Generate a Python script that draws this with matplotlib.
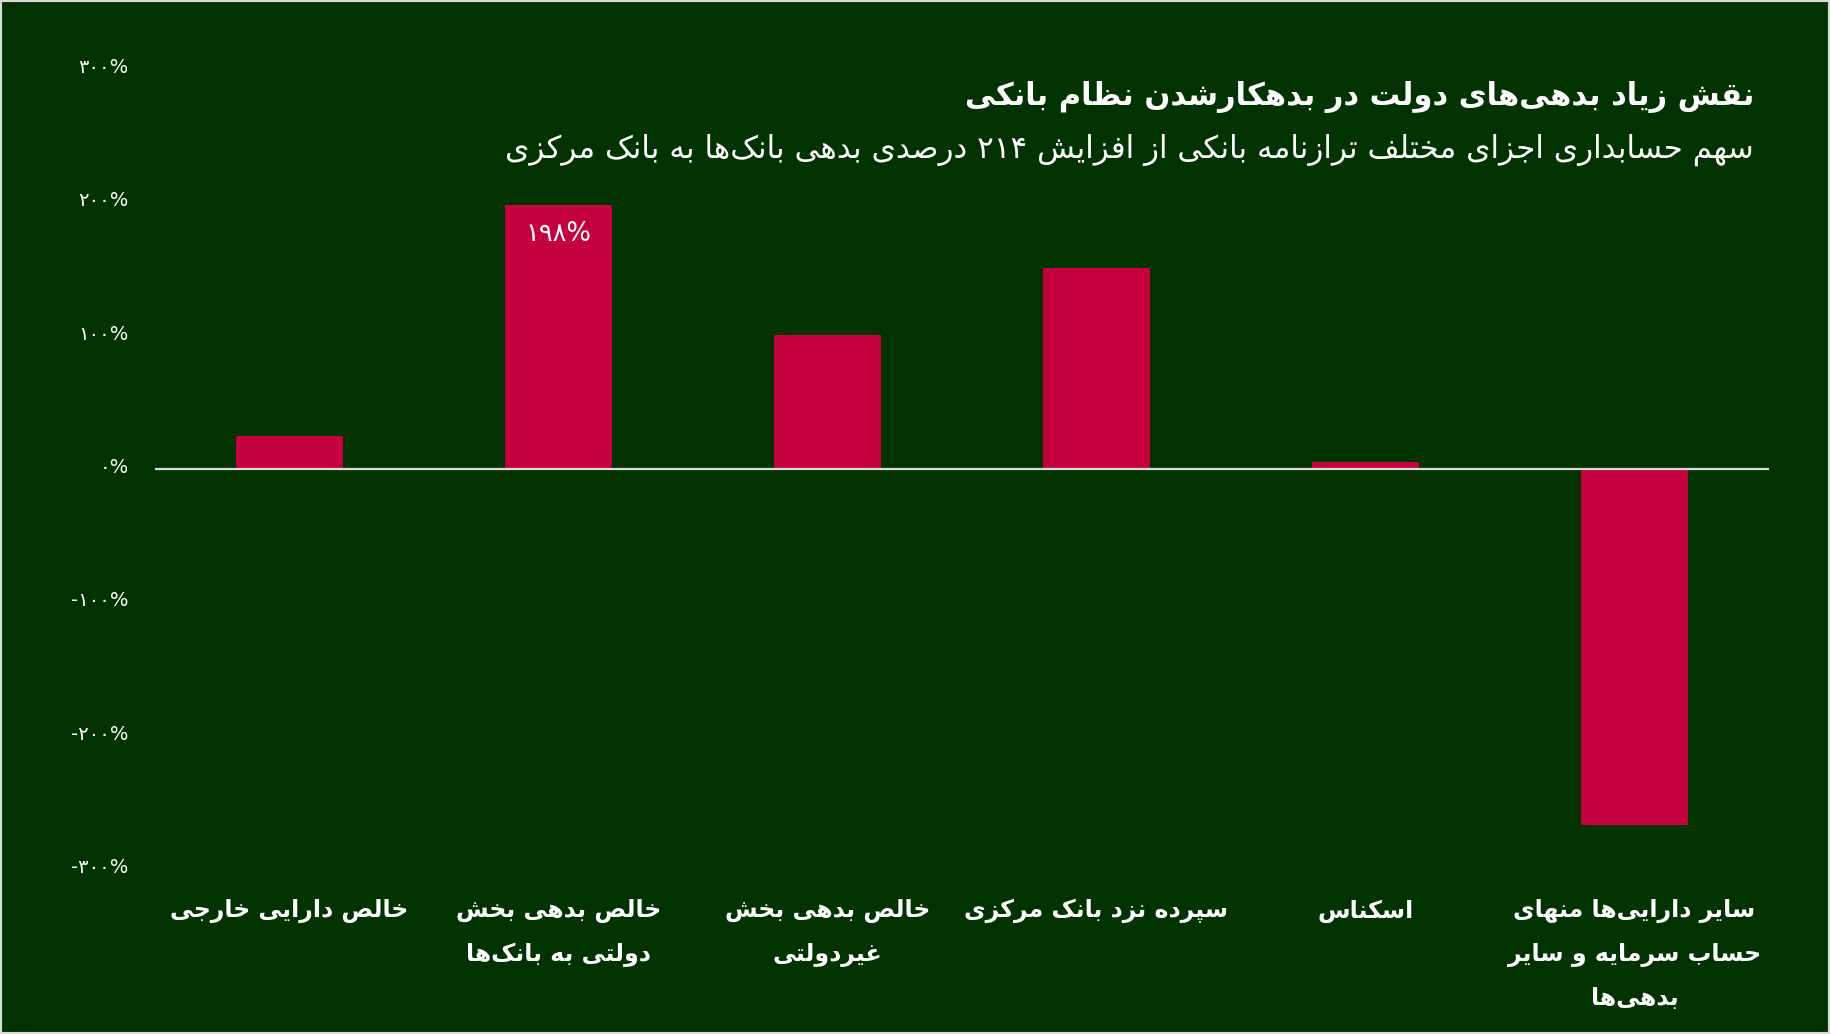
import re
import matplotlib
matplotlib.use("Agg")
import matplotlib.pyplot as plt
from matplotlib.patches import Rectangle
from matplotlib.transforms import ScaledTranslation

# --- data ---
title = "نقش زیاد بدهی‌های دولت در بدهکارشدن نظام بانکی"
subtitle = "سهم حسابداری اجزای مختلف ترازنامه بانکی از افزایش ۲۱۴ درصدی بدهی بانک‌ها به بانک مرکزی"
categories = [
    "خالص دارایی خارجی",
    "خالص بدهی بخش\nدولتی به بانک‌ها",
    "خالص بدهی بخش\nغیردولتی",
    "سپرده نزد بانک مرکزی",
    "اسکناس",
    "سایر دارایی‌ها منهای\nحساب سرمایه و سایر\nبدهی‌ها",
]
values = [24.5, 198, 100, 150.5, 5, -267]
yticks = [-300, -200, -100, 0, 100, 200, 300]
ytick_labels = ["-۳۰۰%", "-۲۰۰%", "-۱۰۰%", "۰%", "۱۰۰%", "۲۰۰%", "۳۰۰%"]
bar_label = "۱۹۸%"

BG = "#003300"
BAR = "#c4003f"

# matplotlib has no arabic shaping, so do it by hand with presentation forms
# dual joining letters: isolated, final, initial, medial are base..base+3
DUAL = {
    0x0626: 0xFE89, 0x0628: 0xFE8F, 0x067E: 0xFB56, 0x062A: 0xFE95, 0x062B: 0xFE99,
    0x062C: 0xFE9D, 0x0686: 0xFB7A, 0x062D: 0xFEA1, 0x062E: 0xFEA5, 0x0633: 0xFEB1,
    0x0634: 0xFEB5, 0x0635: 0xFEB9, 0x0636: 0xFEBD, 0x0637: 0xFEC1, 0x0638: 0xFEC5,
    0x0639: 0xFEC9, 0x063A: 0xFECD, 0x0641: 0xFED1, 0x0642: 0xFED5, 0x06A9: 0xFB8E,
    0x06AF: 0xFB92, 0x0644: 0xFEDD, 0x0645: 0xFEE1, 0x0646: 0xFEE5, 0x0647: 0xFEE9,
    0x06CC: 0xFBFC,
}
# right joining letters: isolated, final
RIGHT = {
    0x0622: 0xFE81, 0x0627: 0xFE8D, 0x062F: 0xFEA9, 0x0630: 0xFEAB, 0x0631: 0xFEAD,
    0x0632: 0xFEAF, 0x0698: 0xFB8A, 0x0648: 0xFEED,
}
DIGITS = "0123456789۰۱۲۳۴۵۶۷۸۹%"


def shape(s):
    out = []
    for i, ch in enumerate(s):
        c = ord(ch)
        if c in DUAL or c in RIGHT:
            prev = ord(s[i - 1]) if i > 0 else None
            nxt = ord(s[i + 1]) if i < len(s) - 1 else None
            jp = prev in DUAL
            jn = c in DUAL and (nxt in DUAL or nxt in RIGHT)
            base = DUAL.get(c, RIGHT.get(c))
            if jp and jn:
                out.append(chr(base + 3))
            elif jp:
                out.append(chr(base + 1))
            elif jn:
                out.append(chr(base + 2))
            else:
                out.append(chr(base))
        elif ch == "\u200c":
            continue
        else:
            out.append(ch)
    return "".join(out)


def rtl(s):
    lines = []
    for line in s.split("\n"):
        runs = re.findall(r"[%s]+|[^%s]+" % (DIGITS, DIGITS), shape(line))
        lines.append("".join(r if r[0] in DIGITS else r[::-1] for r in reversed(runs)))
    return "\n".join(lines)


plt.rcParams["font.family"] = ["DejaVu Sans"]

fig = plt.figure(figsize=(18.3, 10.34), dpi=100)
fig.patch.set_facecolor(BG)
ax = fig.add_axes([0.0847, 0.16, 0.882, 0.7736])
ax.set_facecolor(BG)

x = list(range(len(categories)))
ax.bar(x, values, width=0.4, color=BAR, zorder=2)
ax.axhline(0, color="#dcdcdc", lw=1.6, zorder=3)

ax.set_xlim(-0.5, 5.5)
ax.set_ylim(-300, 300)
for sp in ax.spines.values():
    sp.set_visible(False)

ax.set_yticks(yticks, labels=ytick_labels)
ax.set_xticks(x, labels=[rtl(c) for c in categories])
ax.tick_params(axis="y", length=0, pad=19, labelcolor="white", labelsize=14)
ax.tick_params(axis="x", length=0, pad=22, labelcolor="white", labelsize=17)
for lbl in ax.get_yticklabels():
    lbl.set_transform(lbl.get_transform() + ScaledTranslation(0, 3 / 100, fig.dpi_scale_trans))
for lbl in ax.get_xticklabels():
    lbl.set_fontweight("bold")
    lbl.set_linespacing(2.0)

ax.text(1, values[1] - 22, bar_label, ha="center", va="center",
        color="white", fontsize=18.5, zorder=4)

fig.text(0.9585, 1 - 97 / 1034, rtl(title), ha="right", va="center",
         fontsize=22, fontweight="bold", color="white")
fig.text(0.9585, 1 - 150 / 1034, rtl(subtitle), ha="right", va="center",
         fontsize=22.3, color="white")

fig.patches.append(Rectangle((0, 0), 1, 1, transform=fig.transFigure, fill=False,
                             edgecolor="#d9d9d9", lw=3))

fig.savefig("out.png", dpi=100, facecolor=BG)
